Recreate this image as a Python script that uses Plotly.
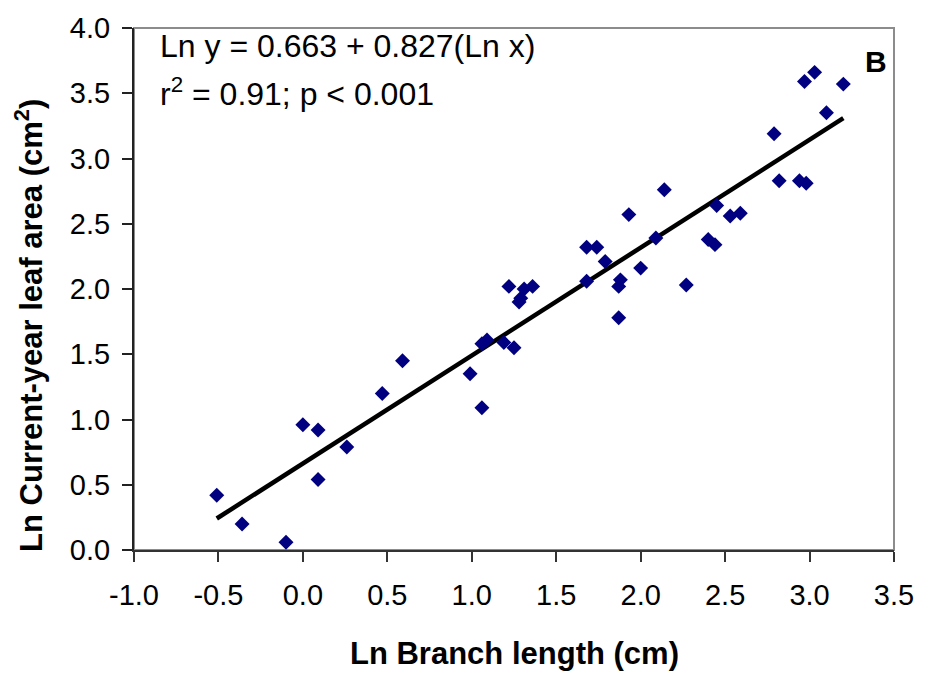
import plotly.graph_objects as go

# Data
ln_branch_length = [-0.51, -0.36, -0.10, 0.00, 0.09, 0.09, 0.26, 0.47, 0.59, 0.99,
                    1.06, 1.06, 1.09, 1.19, 1.25, 1.22, 1.28, 1.29, 1.31, 1.36,
                    1.68, 1.68, 1.74, 1.79, 1.88, 1.87, 1.87, 2.00, 1.93, 2.09,
                    2.14, 2.27, 2.40, 2.44, 2.45, 2.53, 2.59, 2.79, 2.82, 2.94,
                    2.98, 2.97, 3.03, 3.10, 3.20]
ln_leaf_area = [0.42, 0.20, 0.06, 0.96, 0.92, 0.54, 0.79, 1.20, 1.45, 1.35,
                1.09, 1.58, 1.61, 1.59, 1.55, 2.02, 1.90, 1.93, 2.00, 2.02,
                2.06, 2.32, 2.32, 2.21, 2.07, 2.02, 1.78, 2.16, 2.57, 2.39,
                2.76, 2.03, 2.38, 2.34, 2.64, 2.56, 2.58, 3.19, 2.83, 2.83,
                2.81, 3.59, 3.66, 3.35, 3.57]
intercept = 0.663
slope = 0.827

x_ticks = [-1.0, -0.5, 0.0, 0.5, 1.0, 1.5, 2.0, 2.5, 3.0, 3.5]
y_ticks = [0.0, 0.5, 1.0, 1.5, 2.0, 2.5, 3.0, 3.5, 4.0]

xmin, xmax = min(ln_branch_length), max(ln_branch_length)
fit_x = [xmin, xmax]
fit_y = [intercept + slope * v for v in fit_x]

FONT = "Arial, Liberation Sans, sans-serif"

fig = go.Figure()
fig.add_trace(go.Scatter(
    x=fit_x, y=fit_y, mode="lines",
    line=dict(color="black", width=4.5), showlegend=False, hoverinfo="skip"))
fig.add_trace(go.Scatter(
    x=ln_branch_length, y=ln_leaf_area, mode="markers",
    marker=dict(symbol="diamond", size=11.5, color="#000080", line=dict(width=0)),
    showlegend=False))

fig.add_shape(type="rect", xref="paper", yref="paper", x0=0, y0=0, x1=1, y1=1,
              line=dict(color="#8c8c8c", width=2), layer="below")

fig.update_layout(
    width=926, height=673,
    margin=dict(l=134, r=28, t=22, b=123),
    paper_bgcolor="white", plot_bgcolor="white",
    font=dict(family=FONT, color="black"),
    xaxis=dict(range=[-1, 3.5], tickvals=x_ticks,
               ticktext=[f"{v:.1f}" for v in x_ticks],
               showgrid=False, zeroline=False, showline=True,
               linecolor="#333333", linewidth=2,
               ticks="outside", ticklen=10, tickwidth=1.5, tickcolor="#333333",
               ticklabelstandoff=8,
               tickfont=dict(size=29, family=FONT, color="black")),
    yaxis=dict(range=[0, 4], tickvals=y_ticks,
               ticktext=[f"{v:.1f}" for v in y_ticks],
               showgrid=False, zeroline=False, showline=True,
               linecolor="#222222", linewidth=2,
               ticks="outside", ticklen=10, tickwidth=1.5, tickcolor="#222222",
               ticklabelstandoff=6,
               tickfont=dict(size=29, family=FONT, color="black")),
)

fig.add_annotation(xref="paper", yref="paper", x=0.0314, y=0.965,
                   xanchor="left", yanchor="middle", showarrow=False,
                   text="Ln y = 0.663 + 0.827(Ln x)",
                   font=dict(size=32, family=FONT, color="black"))
fig.add_annotation(xref="paper", yref="paper", x=0.0314, y=0.877,
                   xanchor="left", yanchor="middle", showarrow=False,
                   text="r<sup>2</sup> = 0.91; p < 0.001",
                   font=dict(size=32, family=FONT, color="black"))
fig.add_annotation(xref="paper", yref="paper", x=0.9765, y=0.935,
                   xanchor="center", yanchor="middle", showarrow=False,
                   text="<b>B</b>",
                   font=dict(size=30, family=FONT, color="black"))
fig.add_annotation(xref="paper", yref="paper", x=0.5, y=-0.1989,
                   xanchor="center", yanchor="middle", showarrow=False,
                   text="<b>Ln Branch length (cm)</b>",
                   font=dict(size=31, family=FONT, color="black"))
fig.add_annotation(xref="paper", yref="paper", x=-0.139, y=0.43,
                   xanchor="center", yanchor="middle", showarrow=False,
                   textangle=-90,
                   text="<b>Ln Current-year leaf area (cm<sup>2</sup>)</b>",
                   font=dict(size=31, family=FONT, color="black"))

fig.write_html("out.html", config={"displayModeBar": False},
               post_script="document.body.style.margin='0px';document.body.style.overflow='hidden';")
